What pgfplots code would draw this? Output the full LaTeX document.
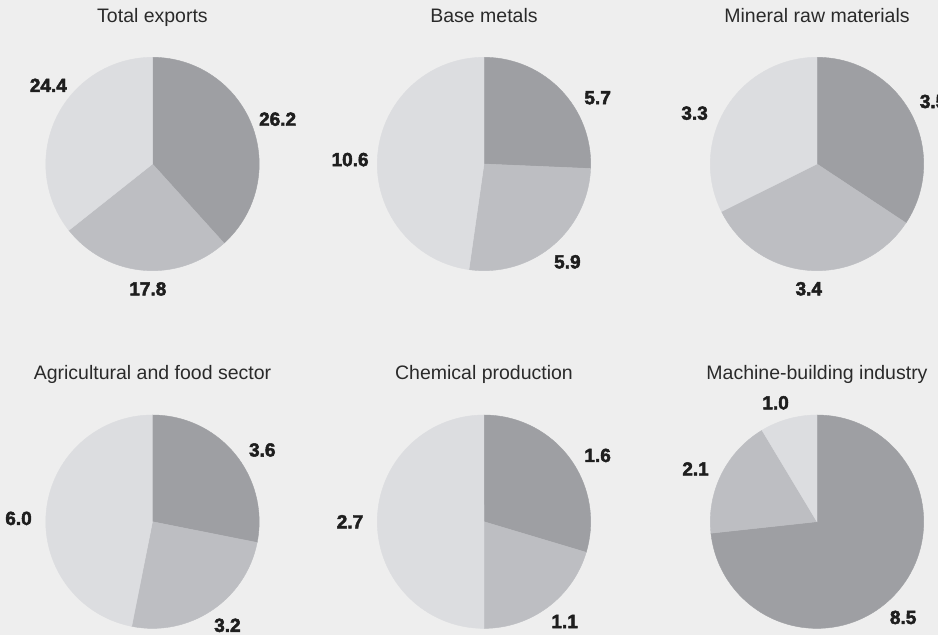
\documentclass[border=0pt]{standalone}
\usepackage{fontspec}
\setmainfont{Liberation Sans}
\newfontfamily\lblfont{Liberation Sans}[BoldFeatures={FakeBold=2.5}]
\usepackage{pgfplots}
\usepackage{pgfplotstable}
\pgfplotsset{compat=1.18}

\definecolor{bgc}{HTML}{EEEEEE}
\definecolor{pie0}{HTML}{9E9FA3}
\definecolor{pie1}{HTML}{BDBEC2}
\definecolor{pie2}{HTML}{DCDDE0}
\definecolor{titlecol}{HTML}{2A2A2A}
\definecolor{lblcol}{HTML}{1E1E1E}

% v = value, la = angle at which the label sits
\pgfplotstableread{
v la
26.2 21
17.8 -92
24.4 141
}\tTotal
\pgfplotstableread{
v la
5.7 32
5.9 -51.5
10.6 178
}\tMetals
\pgfplotstableread{
v la
3.5 30
3.4 -93.5
3.3 156
}\tMineral
\pgfplotstableread{
v la
3.6 35
3.2 -56
6.0 178.5
}\tAgri
\pgfplotstableread{
v la
1.6 32
1.1 -53
2.7 180
}\tChem
\pgfplotstableread{
v la
8.5 -50
2.1 155
1.0 108
}\tMach

\def\pieR{106.7pt}
\pgfdeclareplotmark{wedge}{%
  \pgfmathtruncatemacro\cii{\ci}%
  \pgfsetfillcolor{pie\cii}%
  \pgfsetstrokecolor{pie\cii}%
  \pgfpathmoveto{\pgfpointorigin}%
  \pgfpathlineto{\pgfpointpolar{\angA}{\pieR}}%
  \pgfpatharc{\angA}{\angB}{\pieR}%
  \pgfpathclose
  \pgfsetlinewidth{0.4pt}%
  \pgfusepathqfillstroke
}

\pgfplotsset{
  pie axis/.style={
    hide axis, clip=false,
    x=106.7pt, y=106.7pt,
    xmin=-1, xmax=1, ymin=-1, ymax=1,
    anchor=center,
    title style={at={(0.5,1)}, anchor=base, yshift=29pt,
      font=\fontsize{19.5}{22}\selectfont, text=titlecol},
  },
  pie slices/.style={
    scatter, only marks, mark=wedge,
    point meta=explicit,
    visualization depends on={\coordindex\as\ci},
    visualization depends on={90-360*(\thisrow{cum}-\thisrow{v})/\tot\as\angA},
    visualization depends on={90-360*\thisrow{cum}/\tot\as\angB},
    visualization depends on={\thisrow{la}\as\angL},
    scatter/@pre marker code/.code={\pgfscope},
    scatter/@post marker code/.code={\endpgfscope},
    nodes near coords,
    nodes near coords style={
      font=\lblfont\bfseries\fontsize{19}{21}\selectfont,
      text=lblcol, anchor=center,
      xshift={134*cos(\angL)}, yshift={125*sin(\angL)}},
    /pgf/number format/assume math mode=true,
    /pgf/number format/fixed,
    /pgf/number format/fixed zerofill,
    /pgf/number format/precision=1,
  },
}

\newcommand\piechart[4]{%
  \pgfplotstablecreatecol[create col/expr accum={\pgfmathaccuma+\thisrow{v}}{0}]{cum}{#1}%
  \pgfplotstablegetrowsof{#1}%
  \pgfmathtruncatemacro\lastrow{\pgfplotsretval-1}%
  \pgfplotstablegetelem{\lastrow}{cum}\of{#1}%
  \let\tot\pgfplotsretval
  \begin{axis}[pie axis, at={(#3pt,#4pt)}, title={#2}]
    \addplot[pie slices] table[x expr=0, y expr=0, meta=v] {#1};
  \end{axis}%
}

\begin{document}
\begin{tikzpicture}
\useasboundingbox (0,0) rectangle (938pt,635pt);
\clip (0,0) rectangle (938pt,635pt);
\fill[bgc] (0,0) rectangle (938pt,635pt);
\piechart{\tTotal}{Total exports}{152.5}{471}
\piechart{\tMetals}{Base metals}{484}{471}
\piechart{\tMineral}{Mineral raw materials}{817}{471}
\piechart{\tAgri}{Agricultural and food sector}{152.5}{113.3}
\piechart{\tChem}{Chemical production}{484}{113.3}
\piechart{\tMach}{Machine-building industry}{817}{113.3}
\end{tikzpicture}
\end{document}
